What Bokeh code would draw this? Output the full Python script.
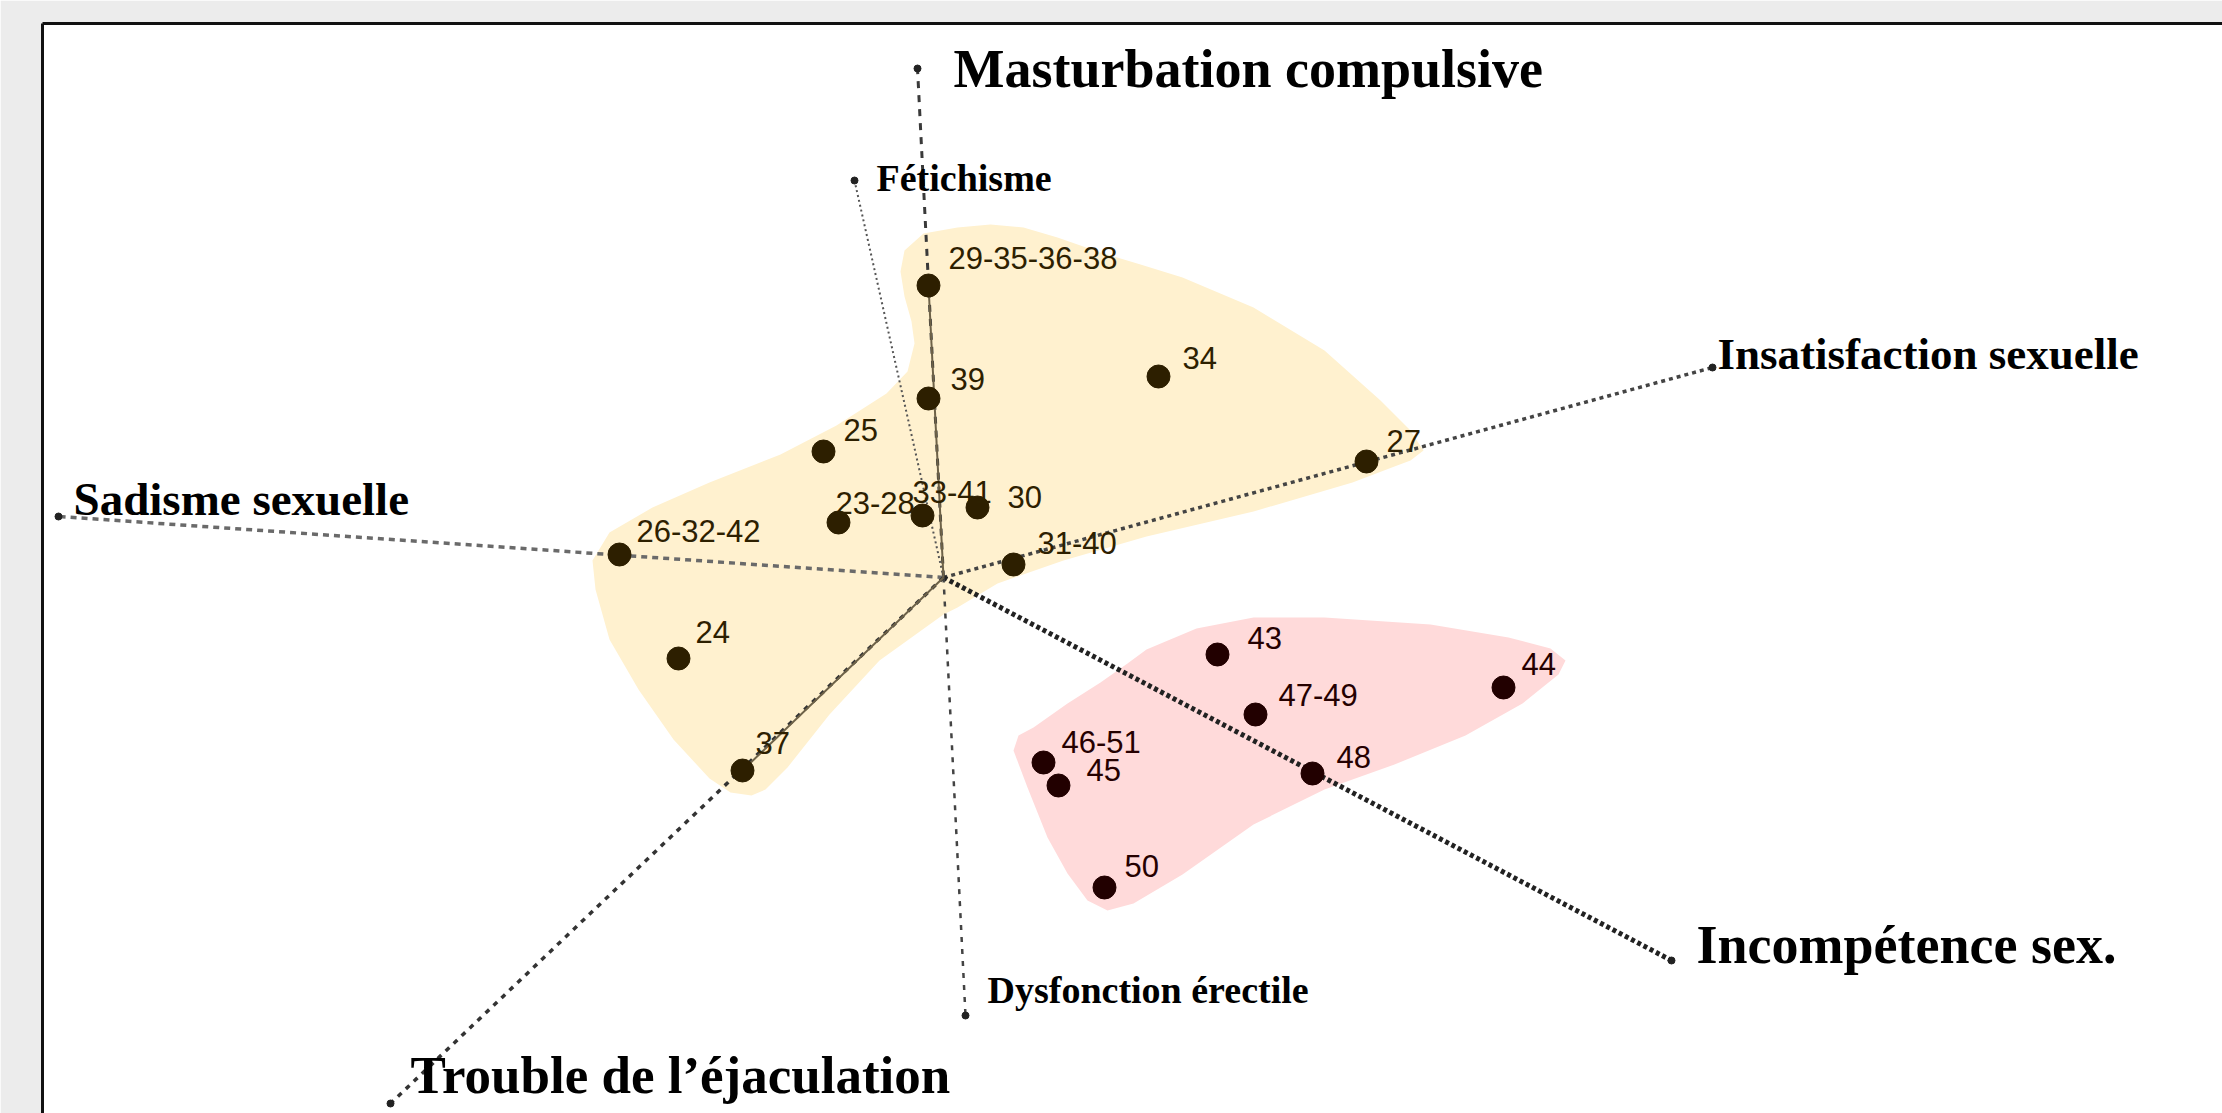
from bokeh.plotting import figure
from bokeh.models import ColumnDataSource, Range1d, FixedTicker
from bokeh.core.properties import value
from bokeh.embed import file_html
from bokeh.resources import INLINE

# ---------------- data (biplot coordinates) ----------------
# Individuals, group 1 (yellow cluster)
g1_labels = ["29-35-36-38", "39", "34", "25", "27", "23-28", "33-41", "30", "31-40", "26-32-42", "24", "37"]
g1_x = [-0.15, -0.15, 2.15, -1.20, 4.23, -1.05, -0.21, 0.34, 0.70, -3.24, -2.65, -2.01]
g1_y = [2.92, 1.79, 2.01, 1.26, 1.16, 0.55, 0.62, 0.70, 0.13, 0.23, -0.81, -1.93]

# Individuals, group 2 (pink cluster)
g2_labels = ["43", "47-49", "44", "46-51", "45", "48", "50"]
g2_x = [2.74, 3.12, 5.60, 1.00, 1.15, 3.69, 1.61]
g2_y = [-0.77, -1.37, -1.10, -1.85, -2.08, -1.96, -3.10]

# Variables (axis end points)
var_names = ["Masturbation compulsive", "Fétichisme", "Insatisfaction sexuelle", "Sadisme sexuelle",
             "Incompétence sex.", "Dysfonction érectile", "Trouble de l\u2019éjaculation"]
var_x = [-0.26, -0.89, 7.69, -8.85, 7.28, 0.22, -5.53]
var_y = [5.09, 3.97, 2.10, 0.61, -3.83, -4.38, -5.26]

# Cluster outlines
g1_hull_x = [-0.39, -0.20, 0.14, 0.47, 0.80, 1.14, 1.57, 1.97, 2.39, 3.10, 3.81, 4.37, 4.66, 4.80, 4.67, 4.51,
             4.09, 3.10, 2.03, 1.20, 0.54, 0.14, 0.00, -0.64, -1.14, -1.56, -1.78, -1.92, -2.13, -2.34, -2.70,
             -3.05, -3.34, -3.48, -3.51, -3.34, -2.91, -2.34, -1.63, -1.07, -0.57, -0.36, -0.29, -0.32, -0.39, -0.43]
g1_hull_y = [3.27, 3.44, 3.50, 3.53, 3.50, 3.40, 3.25, 3.13, 3.00, 2.70, 2.27, 1.77, 1.48, 1.27, 1.17, 1.11,
             0.95, 0.66, 0.41, 0.17, -0.06, -0.30, -0.37, -0.83, -1.37, -1.90, -2.12, -2.18, -2.15, -2.01, -1.62,
             -1.12, -0.62, -0.12, 0.17, 0.45, 0.70, 0.95, 1.23, 1.52, 1.84, 2.06, 2.34, 2.56, 2.81, 3.06]
g2_hull_x = [1.84, 2.03, 2.53, 3.10, 3.81, 4.87, 5.65, 6.07, 6.22, 6.15, 5.79, 5.22, 4.51, 3.81, 3.10, 2.39,
             1.90, 1.64, 1.44, 1.24, 1.04, 0.84, 0.70, 0.75, 0.90, 1.24, 1.57]
g2_hull_y = [-0.86, -0.72, -0.51, -0.40, -0.40, -0.47, -0.60, -0.71, -0.83, -0.97, -1.26, -1.58, -1.87, -2.12,
             -2.47, -2.97, -3.26, -3.33, -3.23, -2.96, -2.60, -2.10, -1.73, -1.58, -1.50, -1.26, -1.05]

# ---------------- styling (label offsets in screen px, line styles) ----------------
g1_dx = [20, 22, 24, 20, 20, -3, -10, 30, 24, 17, 17, 13]
g1_dy = [-28, -20, -19, -22, -21, -20, -24, -11, -22, -24, -27, -28]
g2_dx = [30, 23, 18, 18, 28, 24, 20]
g2_dy = [-17, -20, -24, -21, -16, -17, -22]

var_dx = [36, 22, 5, 15, 25, 22, 20]
var_dy = [0, -3, -14, -18, -16, -26, -29]
var_size = ["54px", "38px", "45px", "47px", "54px", "38px", "53px"]
var_style = [
    dict(line_dash="7 7", line_width=3, line_color="#3a3a3a"),
    dict(line_dash="2 3", line_width=2, line_color="#555555"),
    dict(line_dash="4 4", line_width=3.5, line_color="#444444"),
    dict(line_dash="6 5", line_width=3.5, line_color="#6a6a6a"),
    dict(line_dash="4 3", line_width=5, line_color="#222222"),
    dict(line_dash="5 7", line_width=2.5, line_color="#444444"),
    dict(line_dash="5 6", line_width=3.5, line_color="#333333"),
]

p = figure(frame_width=2180, frame_height=1090, x_range=Range1d(-9.01, 12.79), y_range=Range1d(-5.36, 5.54),
           output_backend="svg", toolbar_location=None, x_axis_location="above", y_axis_location="left",
           min_border_left=42, min_border_top=23, min_border_right=0, min_border_bottom=0)
p.border_fill_color = "#ececec"
p.background_fill_color = "white"
p.outline_line_color = None
p.grid.visible = False
for ax in (p.xaxis, p.yaxis):
    ax.ticker = FixedTicker(ticks=[])
    ax.axis_line_width = 3
    ax.axis_line_color = "#111111"
    ax.major_tick_line_color = None
    ax.minor_tick_line_color = None
    ax.major_label_standoff = 0

# cluster areas
p.patch(g1_hull_x, g1_hull_y, fill_color="#fff1cf", line_color=None)
p.patch(g2_hull_x, g2_hull_y, fill_color="#ffdada", line_color=None)

# variable axes
for vx, vy, st in zip(var_x, var_y, var_style):
    p.line([0, vx], [0, vy], **st)
# solid parts of two axes (origin -> first individual on them)
p.line([0, g1_x[0]], [0, g1_y[0]], line_width=2, line_color="#6e6248")
p.line([0, g1_x[11]], [0, g1_y[11]], line_width=2, line_color="#6e6248")
p.scatter(var_x, var_y, size=7, color="#222222")

# individuals
src1 = ColumnDataSource(dict(x=g1_x, y=g1_y, t=g1_labels, dx=g1_dx, dy=g1_dy))
src2 = ColumnDataSource(dict(x=g2_x, y=g2_y, t=g2_labels, dx=g2_dx, dy=g2_dy))
p.scatter("x", "y", source=src1, size=23, color="#2d1f00")
p.scatter("x", "y", source=src2, size=23, color="#220000")
p.text("x", "y", text="t", source=src1, x_offset="dx", y_offset="dy", text_font=value("Liberation Sans"),
       text_font_size="31px", text_color="#2d2000", text_baseline="alphabetic", text_align="left")
p.text("x", "y", text="t", source=src2, x_offset="dx", y_offset="dy", text_font=value("Liberation Sans"),
       text_font_size="31px", text_color="#250000", text_baseline="alphabetic", text_align="left")

# variable names
src3 = ColumnDataSource(dict(x=var_x, y=var_y, t=var_names, dx=var_dx, dy=var_dy, fs=var_size))
p.text("x", "y", text="t", source=src3, x_offset="dx", y_offset="dy", text_font=value("Liberation Serif"),
       text_font_style="bold", text_font_size="fs", text_color="black", text_baseline="alphabetic",
       text_align="left")

open("out.html", "w").write(file_html(p, INLINE))
